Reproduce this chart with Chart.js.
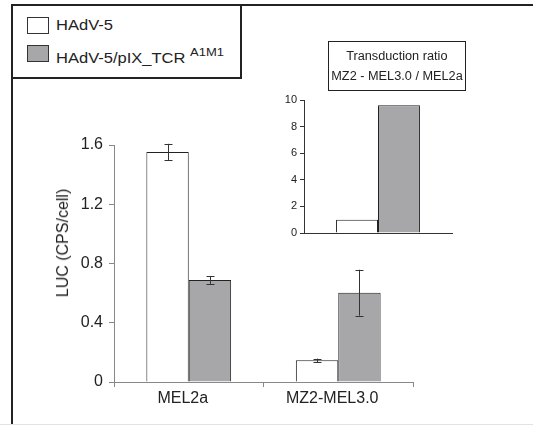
<!DOCTYPE html>
<html>
<head>
<meta charset="utf-8">
<script src="https://cdn.jsdelivr.net/npm/chart.js@4/dist/chart.umd.min.js"></script>
<style>
  html, body { margin: 0; padding: 0; background: #fff; }
  #wrap { position: relative; width: 533px; height: 427px; overflow: hidden; font-family: "Liberation Sans", Arial, sans-serif; color: #222; }
  #main { position: absolute; left: 0; top: 0; }
  #inset { position: absolute; left: 260px; top: 90px; }
  .frameTop { position: absolute; left: 11px; top: 4px; width: 522px; height: 2px; background: #222; }
  .frameLeft { position: absolute; left: 11px; top: 4px; width: 2px; height: 420px; background: #222; }
  .frameBottom { position: absolute; left: 0; top: 424px; width: 533px; height: 1px; background: #e2e2e2; }
  #legend { position: absolute; left: 11px; top: 4px; width: 227px; height: 71px; border: 2px solid #222; background: #fff; }
  .item { position: absolute; left: 14px; height: 17px; font-size: 14px; line-height: 17px; white-space: nowrap; }
  .sw { position: absolute; left: 0; top: 0; width: 20px; height: 15px; border: 1px solid #333; }
  .lbl { position: absolute; left: 29px; top: 0; transform: scaleX(1.18); transform-origin: 0 50%; }
  .lbl sup { font-size: 11px; position: relative; top: -1px; }
  #insetTitle { position: absolute; left: 328px; top: 41px; width: 138px; height: 50px; border: 1px solid #222; font-size: 12px; text-align: center; line-height: 20px; padding-top: 4px; box-sizing: border-box; }
  #insetTitle span { display: inline-block; transform: scaleX(1.06); }
  #ytitle { position: absolute; left: 63px; top: 243px; transform: translate(-50%, -50%) rotate(-90deg); font-size: 16px; white-space: nowrap; }
</style>
</head>
<body>
<div id="wrap">
  <canvas id="main" width="533" height="427"></canvas>
  <canvas id="inset" width="210" height="160"></canvas>
  <div class="frameTop"></div>
  <div class="frameLeft"></div>
  <div class="frameBottom"></div>
  <div id="legend">
    <div class="item" style="top:11px"><div class="sw" id="sw0"></div><div class="lbl">HAdV-5</div></div>
    <div class="item" style="top:39px"><div class="sw" id="sw1"></div><div class="lbl">HAdV-5/pIX_TCR <sup>A1M1</sup></div></div>
  </div>
  <div id="insetTitle"><span>Transduction ratio</span><br><span>MZ2 - MEL3.0 / MEL2a</span></div>
  <div id="ytitle">LUC (CPS/cell)</div>
</div>
<script>
// ---- data ----
const categories = ['MEL2a', 'MZ2-MEL3.0'];
const seriesNames = ['HAdV-5', 'HAdV-5/pIX_TCR A1M1'];
const hadv5Values = [1.553, 0.146];
const hadv5Errors = [0.055, 0.012];
const tcrValues = [0.689, 0.603];
const tcrErrors = [0.027, 0.155];
const yTickLabels = ['0', '0.4', '0.8', '1.2', '1.6'];
const insetCategories = [''];
const insetHadv5 = [1];
const insetTcr = [9.6];
const insetTickLabels = ['0', '2', '4', '6', '8', '10'];

const whiteFill = '#ffffff';
const grayFill = '#a7a7aa';
const barBorder = '#222222';

document.getElementById('sw0').style.background = whiteFill;
document.getElementById('sw1').style.background = grayFill;

const errorBarPlugin = {
  id: 'errorBars',
  afterDatasetsDraw(chart) {
    const ctx = chart.ctx;
    const yScale = chart.scales.y;
    ctx.save();
    ctx.strokeStyle = '#333';
    ctx.lineWidth = 1;
    chart.data.datasets.forEach((ds, di) => {
      if (!ds.errors) return;
      const meta = chart.getDatasetMeta(di);
      meta.data.forEach((bar, i) => {
        const v = ds.data[i], e = ds.errors[i];
        const x = Math.round(bar.x) + 0.5;
        const yTop = yScale.getPixelForValue(v + e);
        const yBot = yScale.getPixelForValue(v - e);
        ctx.beginPath();
        ctx.moveTo(x, yTop); ctx.lineTo(x, yBot);
        ctx.moveTo(x - 4, Math.round(yTop) + 0.5); ctx.lineTo(x + 4, Math.round(yTop) + 0.5);
        ctx.moveTo(x - 4, Math.round(yBot) + 0.5); ctx.lineTo(x + 4, Math.round(yBot) + 0.5);
        ctx.stroke();
      });
    });
    ctx.restore();
  }
};

const font = { family: '"Liberation Sans", Arial, sans-serif' };

new Chart(document.getElementById('main'), {
  type: 'bar',
  data: {
    labels: categories,
    datasets: [
      { label: seriesNames[0], data: hadv5Values, errors: hadv5Errors, backgroundColor: whiteFill, borderColor: barBorder, borderWidth: 1, categoryPercentage: 0.567, barPercentage: 1 },
      { label: seriesNames[1], data: tcrValues, errors: tcrErrors, backgroundColor: grayFill, borderColor: barBorder, borderWidth: 1, categoryPercentage: 0.567, barPercentage: 1 }
    ]
  },
  options: {
    responsive: false,
    animation: false,
    layout: { padding: { top: 145, right: 120, bottom: 0, left: 0 } },
    plugins: { legend: { display: false }, tooltip: { enabled: false } },
    scales: {
      x: {
        afterFit(s) { s.height = 45; },
        grid: { display: true, drawOnChartArea: false, offset: true, tickLength: 5, color: '#888' },
        border: { display: true, color: '#888', width: 1 },
        ticks: { color: '#222', font: { ...font, size: 16 }, padding: 2, labelOffset: -6 }
      },
      y: {
        min: 0, max: 1.6,
        afterFit(s) { s.width = 114; },
        afterBuildTicks(s) { s.ticks = yTickLabels.map((t, i) => ({ value: i * 0.4 })); },
        grid: { display: true, drawOnChartArea: false, tickLength: 5, color: '#888' },
        border: { display: true, color: '#888', width: 1 },
        ticks: { color: '#222', font: { ...font, size: 16 }, padding: 6, callback: (v, i) => yTickLabels[i] }
      }
    }
  },
  plugins: [errorBarPlugin]
});

new Chart(document.getElementById('inset'), {
  type: 'bar',
  data: {
    labels: insetCategories,
    datasets: [
      { label: seriesNames[0], data: insetHadv5, backgroundColor: whiteFill, borderColor: barBorder, borderWidth: 1, categoryPercentage: 0.567, barPercentage: 1 },
      { label: seriesNames[1], data: insetTcr, backgroundColor: grayFill, borderColor: barBorder, borderWidth: 1, categoryPercentage: 0.567, barPercentage: 1 }
    ]
  },
  options: {
    responsive: false,
    animation: false,
    layout: { padding: { top: 10, right: 18, bottom: 0, left: 0 } },
    plugins: { legend: { display: false }, tooltip: { enabled: false } },
    scales: {
      x: {
        afterFit(s) { s.height = 17; },
        grid: { display: false },
        border: { display: true, color: '#333', width: 1 },
        ticks: { display: false }
      },
      y: {
        min: 0, max: 10,
        afterFit(s) { s.width = 44; },
        afterBuildTicks(s) { s.ticks = insetTickLabels.map((t, i) => ({ value: i * 2 })); },
        grid: { display: true, drawOnChartArea: false, tickLength: 4, color: '#333' },
        border: { display: true, color: '#333', width: 1 },
        ticks: { color: '#222', font: { ...font, size: 11 }, padding: 3, callback: (v, i) => insetTickLabels[i] }
      }
    }
  }
});
</script>
</body>
</html>
